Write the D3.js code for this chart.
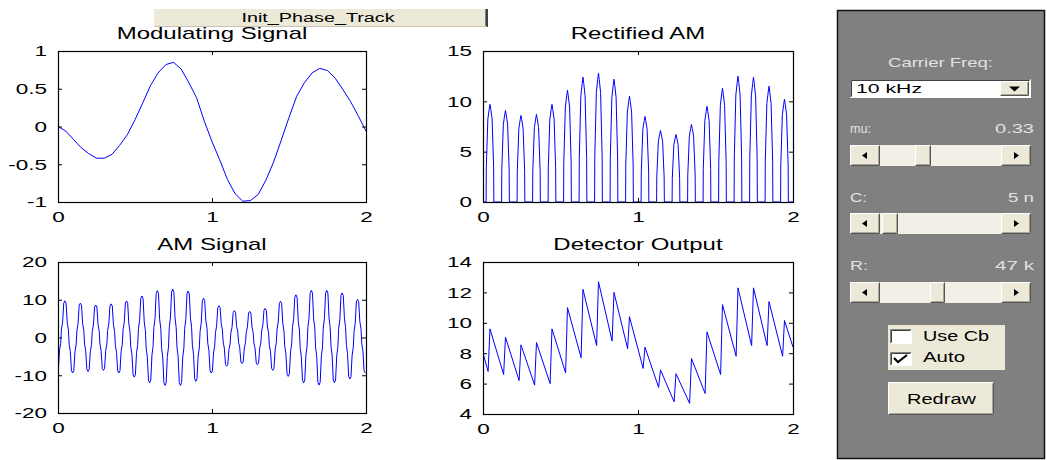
<!DOCTYPE html>
<html>
<head>
<meta charset="utf-8">
<script src="https://cdn.jsdelivr.net/npm/d3@7"></script>
<style>
  html, body { margin: 0; padding: 0; background: #fff; }
  svg { display: block; font-family: "Liberation Sans", Arial, Helvetica, sans-serif; }
</style>
</head>
<body>
<svg id="fig" width="1047" height="460"></svg>
<script>
// AM envelope detector demo: four traces + control panel

const SX = 1.5; // the captured figure text is stretched horizontally

// Modulating signal, sampled every 0.05 ms
const modTime = [0, 0.05, 0.1, 0.15, 0.2, 0.25, 0.3, 0.35, 0.4, 0.45, 0.5, 0.55, 0.6, 0.65, 0.7, 0.75, 0.8, 0.85, 0.9, 0.95,
  1.0, 1.05, 1.1, 1.15, 1.2, 1.25, 1.3, 1.35, 1.4, 1.45, 1.5, 1.55, 1.6, 1.65, 1.7, 1.75, 1.8, 1.85, 1.9, 1.95, 2.0];
const modValue = [0, -0.06, -0.17, -0.28, -0.36, -0.42, -0.42, -0.37, -0.25, -0.11, 0.09, 0.31, 0.54, 0.71, 0.82, 0.85, 0.76, 0.58, 0.38, 0.07,
  -0.2, -0.44, -0.7, -0.89, -0.99, -0.98, -0.9, -0.71, -0.47, -0.18, 0.12, 0.4, 0.58, 0.71, 0.77, 0.74, 0.64, 0.49, 0.33, 0.14, -0.06];

// Carrier (10 kHz) peak instants
const peakTime = [0.045, 0.145, 0.245, 0.345, 0.445, 0.545, 0.645, 0.745, 0.845, 0.945,
  1.045, 1.145, 1.245, 1.345, 1.445, 1.545, 1.645, 1.745, 1.845, 1.945];
const HALF = 0.05;   // half carrier period
const CHARGE = 0.012; // detector charging time before each peak

// AM signal: value before first peak, then peak / following trough per cycle
const amStart = -9.0;
const amPeaks = [9.7, 9.1, 8.6, 8.9, 9.7, 11.0, 12.4, 12.8, 12.3, 10.4, 8.4, 7.1, 6.9, 7.7, 9.6, 11.3, 12.5, 12.5, 11.8, 10.1];
const amTroughs = [-9.4, -9.0, -8.7, -9.4, -10.5, -12.0, -12.7, -12.7, -11.6, -9.4, -7.6, -6.9, -7.2, -8.7, -10.3, -12.0, -12.6, -12.0, -11.0, -9.4];

// Rectified AM pulse heights
const rectPeaks = [9.7, 9.1, 8.6, 8.7, 9.7, 11.1, 12.4, 12.8, 12.2, 10.5, 8.5, 7.1, 6.7, 7.7, 9.5, 11.3, 12.5, 12.4, 11.5, 10.2];

// Detector output: value at trough just before each peak, and the peak
const detStart = 8.0, detEnd = 8.4;
const detTroughs = [6.8, 6.6, 6.2, 5.9, 6.0, 6.7, 7.7, 8.5, 8.8, 8.3, 7.0, 5.75, 4.8, 4.7, 5.35, 6.6, 7.8, 8.5, 8.5, 7.8];
const detPeaks = [9.6, 9.05, 8.55, 8.7, 9.6, 11.0, 12.2, 12.7, 12.0, 10.4, 8.4, 6.9, 6.65, 7.65, 9.4, 11.2, 12.3, 12.3, 11.4, 10.15];

// Carrier shape of one half cycle (trough -> peak) as seen in the stepped trace
const riseFrac = [0, 0.15, 0.3, 0.45, 0.55, 0.7, 0.85, 1];
const riseShape = [0, 0.03, 0.3, 0.4, 0.6, 0.7, 0.97, 1];
// Rectified pulse quarter cycle (zero -> peak)
const pulseFrac = [0, 0.05, 0.45, 0.8, 1];
const pulseShape = [0, 0.35, 0.85, 0.95, 1];

// Tick values
const xTicks = [0, 1, 2];
const modYTicks = [-1, -0.5, 0, 0.5, 1];
const rectYTicks = [0, 5, 10, 15];
const amYTicks = [-20, -10, 0, 10, 20];
const detYTicks = [4, 6, 8, 10, 12, 14];

// ---- build traces
const modPts = modTime.map((t, i) => [t, modValue[i]]);

const amPts = [];
peakTime.forEach((tp, k) => {
  const lo = k === 0 ? amStart : amTroughs[k - 1];
  const hi = amPeaks[k];
  riseFrac.forEach((f, j) => {
    if (k > 0 && j === 0) return;
    amPts.push([tp - HALF + f * HALF, lo + (hi - lo) * riseShape[j]]);
  });
  riseFrac.forEach((f, j) => {
    if (j === 0) return;
    amPts.push([tp + f * HALF, hi + (amTroughs[k] - hi) * riseShape[j]]);
  });
});

const rectPts = [[0, 0]];
peakTime.forEach((tp, k) => {
  const Q = HALF / 2;
  pulseFrac.forEach((f, j) => rectPts.push([tp - Q + f * Q, rectPeaks[k] * pulseShape[j]]));
  for (let j = pulseFrac.length - 2; j >= 0; j--) {
    rectPts.push([tp + (1 - pulseFrac[j]) * Q, rectPeaks[k] * pulseShape[j]]);
  }
});
rectPts.push([2, 0]);

const detPts = [[0, detStart]];
peakTime.forEach((tp, k) => {
  detPts.push([tp - CHARGE, detTroughs[k]]);
  detPts.push([tp, detPeaks[k]]);
});
detPts.push([2, detEnd]);

// ---- layout
const panels = [
  { id: 'mod', title: 'Modulating Signal', x: 58, y: 51, w: 308, h: 151, yDomain: [-1, 1], yTicks: modYTicks, pts: modPts },
  { id: 'rect', title: 'Rectified AM', x: 483, y: 51, w: 310, h: 151, yDomain: [0, 15], yTicks: rectYTicks, pts: rectPts },
  { id: 'am', title: 'AM Signal', x: 58, y: 262, w: 308, h: 151, yDomain: [-20, 20], yTicks: amYTicks, pts: amPts },
  { id: 'det', title: 'Detector Output', x: 483, y: 262, w: 310, h: 152, yDomain: [4, 14], yTicks: detYTicks, pts: detPts }
];

const svg = d3.select('#fig');
svg.append('rect').attr('width', 1047).attr('height', 460).attr('fill', '#fff');

function wideText(parent, x, y, str, size, anchor, fill, sx) {
  return parent.append('text')
    .attr('transform', `translate(${x},${y}) scale(${sx || SX},1)`)
    .attr('font-size', size)
    .attr('text-anchor', anchor || 'middle')
    .attr('fill', fill || '#000')
    .text(str);
}

function fitText(parent, x, y, str, size, width, fill) {
  return parent.append('text')
    .attr('x', x).attr('y', y)
    .attr('font-size', size)
    .attr('textLength', width)
    .attr('lengthAdjust', 'spacingAndGlyphs')
    .attr('fill', fill || '#000')
    .text(str);
}

const TICK = 4;

panels.forEach(p => {
  const g = svg.append('g').attr('transform', `translate(${p.x},${p.y})`);
  const x = d3.scaleLinear().domain([0, 2]).range([0, p.w]);
  const y = d3.scaleLinear().domain(p.yDomain).range([p.h, 0]);

  g.append('clipPath').attr('id', 'clip-' + p.id)
    .append('rect').attr('width', p.w).attr('height', p.h);

  g.append('path')
    .datum(p.pts)
    .attr('clip-path', `url(#clip-${p.id})`)
    .attr('fill', 'none')
    .attr('stroke', '#0000ff')
    .attr('stroke-width', 1)
    .attr('stroke-linejoin', 'round')
    .attr('d', d3.line().x(d => x(d[0])).y(d => y(d[1])));

  const fmt = d => String(d);

  const left = g.append('g').call(d3.axisLeft(y).tickValues(p.yTicks).tickFormat(fmt)
    .tickSizeInner(-TICK).tickSizeOuter(0).tickPadding(11));
  left.selectAll('text').attr('x', null)
    .attr('transform', `translate(-11,0) scale(${SX},1)`);

  g.append('g').attr('transform', `translate(${p.w},0)`)
    .call(d3.axisRight(y).tickValues(p.yTicks).tickFormat('').tickSizeInner(-TICK).tickSizeOuter(0));

  g.append('g').attr('transform', `translate(0,${p.h})`)
    .call(d3.axisBottom(x).tickValues(xTicks).tickFormat(fmt)
      .tickSizeInner(-TICK).tickSizeOuter(0).tickPadding(9.5))
    .selectAll('text').attr('transform', `scale(${SX},1)`);

  g.append('g')
    .call(d3.axisTop(x).tickValues(xTicks).tickFormat('').tickSizeInner(-TICK).tickSizeOuter(0));

  g.selectAll('.domain').remove();
  g.selectAll('.tick line').attr('stroke', '#000');
  g.selectAll('.tick text').attr('font-size', 15).attr('fill', '#000')
    .attr('font-family', '"Liberation Sans", Arial, sans-serif');

  g.append('rect').attr('x', 0.5).attr('y', 0.5).attr('width', p.w).attr('height', p.h)
    .attr('fill', 'none').attr('stroke', '#000').attr('stroke-width', 1.2);

  wideText(g, p.w / 2, -12, p.title, 16, 'middle');
});

// ---- UI widgets
const BEIGE = '#ece9d8';

function bevel(g, x, y, w, h, raised, fill) {
  g.append('rect').attr('x', x).attr('y', y).attr('width', w).attr('height', h).attr('fill', fill);
  const tl = raised ? '#ffffff' : '#808080';
  const br = raised ? '#555555' : '#ffffff';
  g.append('path').attr('d', `M${x + 0.5},${y + h - 0.5}V${y + 0.5}H${x + w - 0.5}`)
    .attr('fill', 'none').attr('stroke', tl);
  g.append('path').attr('d', `M${x + 0.5},${y + h - 0.5}H${x + w - 0.5}V${y + 0.5}`)
    .attr('fill', 'none').attr('stroke', br);
  if (raised) {
    g.append('path').attr('d', `M${x + 1.5},${y + h - 1.5}H${x + w - 1.5}V${y + 1.5}`)
      .attr('fill', 'none').attr('stroke', '#aca899');
  } else {
    g.append('path').attr('d', `M${x + 1.5},${y + h - 1.5}V${y + 1.5}H${x + w - 1.5}`)
      .attr('fill', 'none').attr('stroke', '#404040');
  }
}

const ui = svg.append('g');

// top push button
ui.append('rect').attr('x', 154).attr('y', 9).attr('width', 333).attr('height', 18).attr('fill', BEIGE);
ui.append('path').attr('d', 'M485.5,9V27').attr('stroke', '#808080').attr('stroke-width', 1);
ui.append('path').attr('d', 'M487,9V27').attr('stroke', '#404040').attr('stroke-width', 2);
ui.append('path').attr('d', 'M154,26.5H487').attr('stroke', '#c8c4b4').attr('stroke-width', 1);
wideText(ui, 318, 22, 'Init_Phase_Track', 12, 'middle', '#000', 1.65);

// control frame
ui.append('rect').attr('x', 837.5).attr('y', 10.5).attr('width', 207).attr('height', 448)
  .attr('fill', '#808080').attr('stroke', '#111').attr('stroke-width', 1.5);

const LABEL = '#e2e2e2';
fitText(ui, 888, 67, 'Carrier Freq:', 13, 105, LABEL);

// popup menu
bevel(ui, 850, 79, 181, 19, false, '#ffffff');
fitText(ui, 856, 93, '10 kHz', 13, 66, '#000');
bevel(ui, 1000, 81, 29, 15, true, BEIGE);
ui.append('path').attr('d', 'M1009,86.5H1020L1014.5,91.5Z').attr('fill', '#000');

function slider(y, thumbX, thumbW) {
  ui.append('rect').attr('x', 850).attr('y', y).attr('width', 181).attr('height', 21).attr('fill', '#f1efe6');
  bevel(ui, 850, y, 30, 21, true, BEIGE);
  bevel(ui, 1001, y, 30, 21, true, BEIGE);
  bevel(ui, thumbX, y, thumbW, 21, true, BEIGE);
  ui.append('path').attr('d', `M862,${y + 10.5}L867,${y + 7}V${y + 14}Z`).attr('fill', '#000');
  ui.append('path').attr('d', `M1019,${y + 10.5}L1014,${y + 7}V${y + 14}Z`).attr('fill', '#000');
}

fitText(ui, 850, 133, 'mu:', 13, 21, LABEL);
fitText(ui, 995, 133, '0.33', 13, 39, LABEL);
slider(145, 915, 16);

fitText(ui, 850, 202, 'C:', 13, 17, LABEL);
fitText(ui, 1008, 202, '5 n', 13, 26, LABEL);
slider(213, 882, 16);

fitText(ui, 850, 270, 'R:', 13, 18, LABEL);
fitText(ui, 995, 270, '47 k', 13, 39, LABEL);
slider(282, 930, 15);

// check boxes
ui.append('rect').attr('x', 888).attr('y', 325).attr('width', 117).attr('height', 45).attr('fill', BEIGE);
bevel(ui, 890, 329, 22, 15, false, '#ffffff');
bevel(ui, 890, 352, 22, 14, false, '#ffffff');
ui.append('path').attr('d', 'M894,358L898,362L907,355').attr('fill', 'none').attr('stroke', '#000').attr('stroke-width', 2.2);
fitText(ui, 923, 341, 'Use Cb', 14, 66, '#000');
fitText(ui, 923, 362, 'Auto', 14, 42, '#000');

// redraw button
bevel(ui, 888, 382, 106, 33, true, BEIGE);
fitText(ui, 907, 404, 'Redraw', 14, 69, '#000');
</script>
</body>
</html>
